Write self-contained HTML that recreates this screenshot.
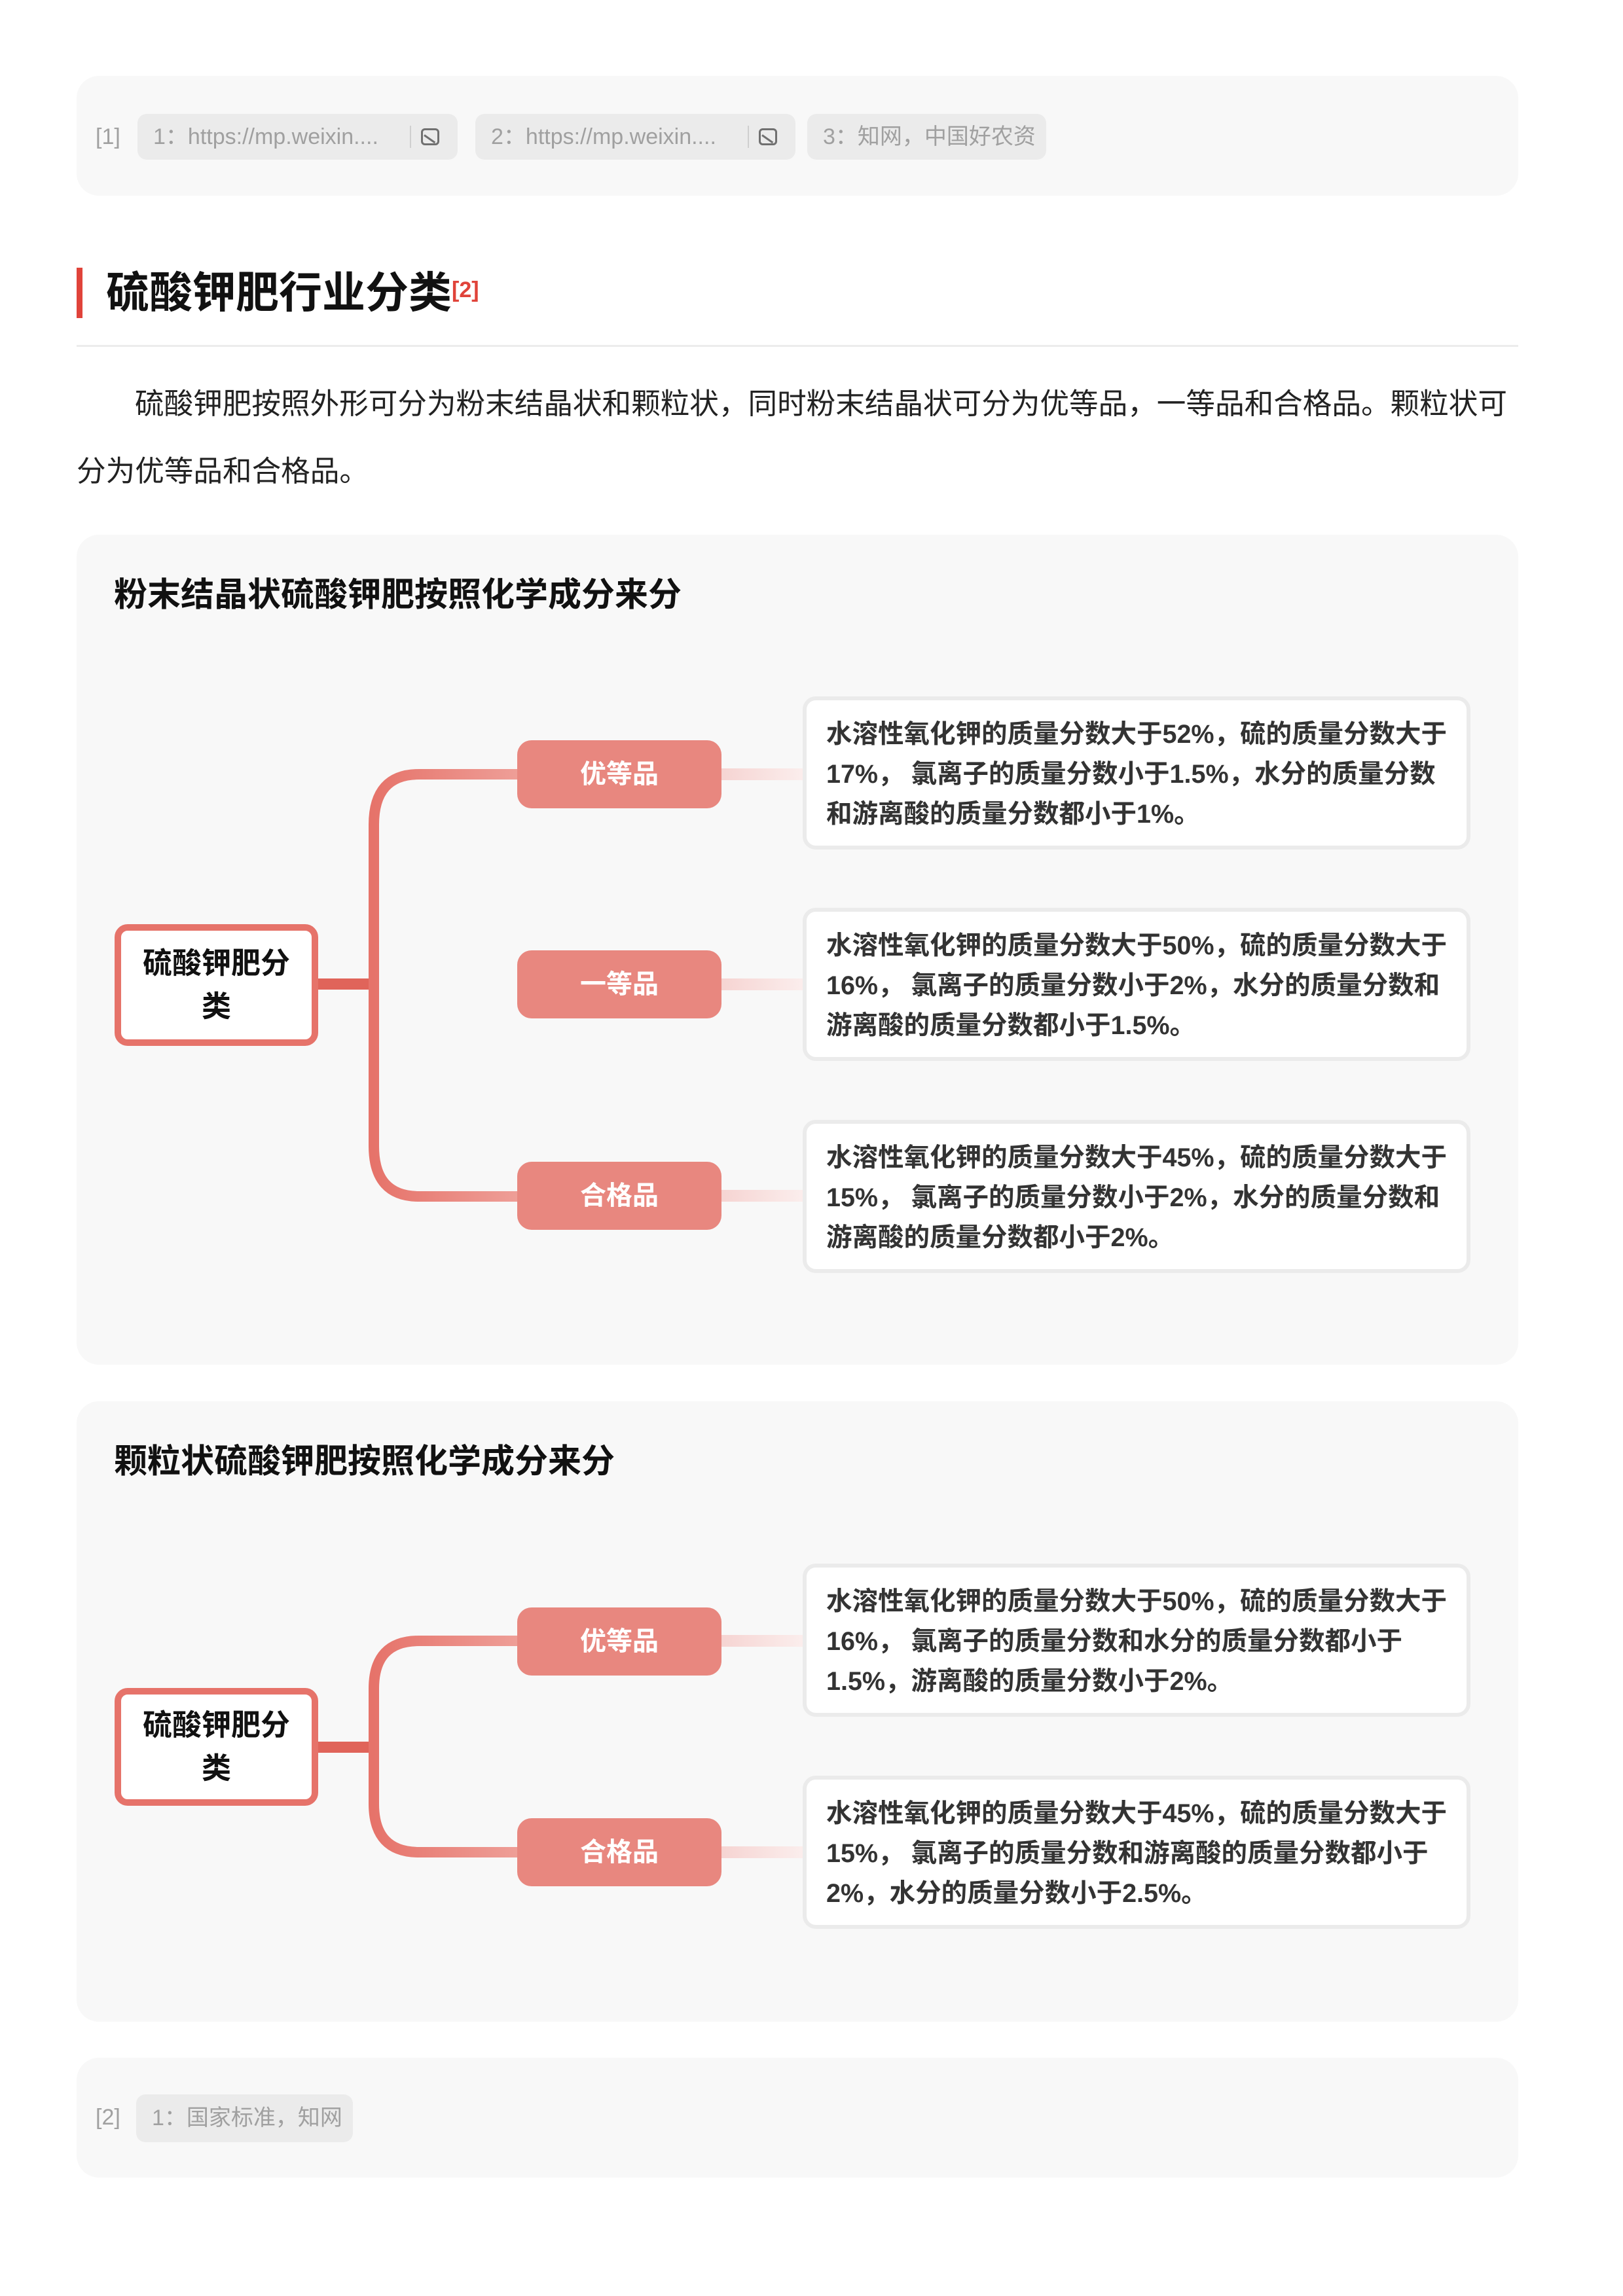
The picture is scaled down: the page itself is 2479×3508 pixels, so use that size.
<!DOCTYPE html>
<html><head><meta charset="utf-8">
<style>
*{margin:0;padding:0;box-sizing:border-box}
body{width:2479px;height:3508px;background:#fff;position:relative;font-family:"Liberation Sans","Noto Sans CJK SC",sans-serif;overflow:hidden}
.abs{position:absolute}
.panel{position:absolute;left:117px;width:2202px;background:#f8f8f8;border-radius:34px}
.chip{position:absolute;height:70px;background:#ebebeb;border-radius:14px;color:#a0a0a0;font-size:34px;line-height:70px;padding-left:24px;white-space:nowrap}
.ref{position:absolute;color:#a0a0a0;font-size:34px;line-height:70px}
.icon{position:absolute;top:22px;width:28px;height:26px;border:3px solid #707070;border-radius:6px}
.icon:after{content:"";position:absolute;left:2px;top:6px;width:20px;height:3px;background:#707070;transform:rotate(35deg);transform-origin:left}
.sep{position:absolute;top:18px;width:2px;height:34px;background:#cfcfcf}
.ptitle{position:absolute;left:174px;font-size:51px;font-weight:bold;color:#111;white-space:nowrap}
.root{position:absolute;left:175px;width:311px;background:#fff;border:10px solid #e6736a;border-radius:20px;display:flex;align-items:center;justify-content:center;text-align:center;font-size:45px;font-weight:bold;line-height:66px;color:#111}
.cat{position:absolute;left:790px;width:312px;height:104px;background:#e8877f;border-radius:22px;color:#fff;font-size:40px;font-weight:bold;text-align:center;line-height:104px}
.det{position:absolute;left:1226px;width:1020px;height:234px;background:#fff;border:6px solid #ebebeb;border-radius:20px;padding:22px 0 0 30px;font-size:39.5px;font-weight:bold;color:#333;line-height:61px;white-space:nowrap}
</style></head><body>

<div class="panel" style="top:116px;height:183px"></div>
<div class="ref" style="left:146px;top:174px">[1]</div>
<div class="chip" style="left:210px;top:174px;width:489px">1：https://mp.weixin....<span class="sep" style="left:416px"></span><span class="icon" style="left:433px"></span></div>
<div class="chip" style="left:726px;top:174px;width:489px">2：https://mp.weixin....<span class="sep" style="left:416px"></span><span class="icon" style="left:433px"></span></div>
<div class="chip" style="left:1233px;top:174px;width:365px">3：知网，中国好农资</div>

<div class="abs" style="left:117px;top:409px;width:9px;height:77px;background:#e0433a"></div>
<div class="abs" style="left:162px;top:404px;font-size:66px;font-weight:bold;color:#111;line-height:86px;white-space:nowrap">硫酸钾肥行业分类<span style="color:#e0433a;font-size:34px;font-weight:bold;vertical-align:top;position:relative;top:-4px">[2]</span></div>
<div class="abs" style="left:117px;top:527px;width:2202px;height:3px;background:#ececec"></div>

<div class="abs" style="left:117px;top:566px;width:2210px;font-size:44.6px;line-height:103px;color:#222;text-indent:89px;white-space:nowrap">硫酸钾肥按照外形可分为粉末结晶状和颗粒状，同时粉末结晶状可分为优等品，一等品和合格品。颗粒状可<br><span style="display:inline-block;text-indent:0">分为优等品和合格品。</span></div>

<!-- Panel 1 -->
<div class="panel" style="top:817px;height:1268px"></div>
<div class="ptitle" style="top:867px">粉末结晶状硫酸钾肥按照化学成分来分</div>

<svg class="abs" style="left:0;top:0" width="2479" height="3508">
<defs>
<linearGradient id="g1" x1="0" x2="1" y1="0" y2="0"><stop offset="0" stop-color="#e6736a"/><stop offset="1" stop-color="#ee9e97"/></linearGradient>
<linearGradient id="g2" x1="0" x2="1" y1="0" y2="0"><stop offset="0" stop-color="#f6d4d2"/><stop offset="1" stop-color="#fbeeed"/></linearGradient>
</defs>
<rect x="486" y="1495" width="90" height="17" fill="#e0645a"/>
<path d="M790 1183 H640 Q571 1183 571 1260 V1751 Q571 1828 640 1828 H790" fill="none" stroke="url(#g1)" stroke-width="16"/>
<path d="M571 1503 H790" stroke="url(#g1)" stroke-width="16"/>
<rect x="1102" y="1174" width="126" height="18" fill="url(#g2)"/>
<rect x="1102" y="1495" width="126" height="18" fill="url(#g2)"/>
<rect x="1102" y="1818" width="126" height="18" fill="url(#g2)"/>
<rect x="486" y="2661" width="90" height="17" fill="#e0645a"/>
<path d="M790 2507 H640 Q571 2507 571 2580 V2756 Q571 2830 640 2830 H790" fill="none" stroke="url(#g1)" stroke-width="16"/>
<rect x="1102" y="2498" width="126" height="18" fill="url(#g2)"/>
<rect x="1102" y="2821" width="126" height="18" fill="url(#g2)"/>
</svg>

<div class="root" style="top:1412px;height:186px">硫酸钾肥分<br>类</div>
<div class="cat" style="top:1131px">优等品</div>
<div class="cat" style="top:1452px">一等品</div>
<div class="cat" style="top:1775px">合格品</div>
<div class="det" style="top:1064px">水溶性氧化钾的质量分数大于52%，硫的质量分数大于<br>17%， 氯离子的质量分数小于1.5%，水分的质量分数<br>和游离酸的质量分数都小于1%。</div>
<div class="det" style="top:1387px">水溶性氧化钾的质量分数大于50%，硫的质量分数大于<br>16%， 氯离子的质量分数小于2%，水分的质量分数和<br>游离酸的质量分数都小于1.5%。</div>
<div class="det" style="top:1711px">水溶性氧化钾的质量分数大于45%，硫的质量分数大于<br>15%， 氯离子的质量分数小于2%，水分的质量分数和<br>游离酸的质量分数都小于2%。</div>

<!-- Panel 2 -->
<div class="panel" style="top:2141px;height:948px;z-index:-1"></div>
<div class="ptitle" style="top:2191px">颗粒状硫酸钾肥按照化学成分来分</div>
<div class="root" style="top:2579px;height:180px">硫酸钾肥分<br>类</div>
<div class="cat" style="top:2456px">优等品</div>
<div class="cat" style="top:2778px">合格品</div>
<div class="det" style="top:2389px">水溶性氧化钾的质量分数大于50%，硫的质量分数大于<br>16%， 氯离子的质量分数和水分的质量分数都小于<br>1.5%，游离酸的质量分数小于2%。</div>
<div class="det" style="top:2713px">水溶性氧化钾的质量分数大于45%，硫的质量分数大于<br>15%， 氯离子的质量分数和游离酸的质量分数都小于<br>2%，水分的质量分数小于2.5%。</div>

<div class="panel" style="top:3144px;height:183px"></div>
<div class="ref" style="left:146px;top:3200px">[2]</div>
<div class="chip" style="left:208px;top:3200px;width:331px;height:73px;line-height:73px">1：国家标准，知网</div>

</body></html>
